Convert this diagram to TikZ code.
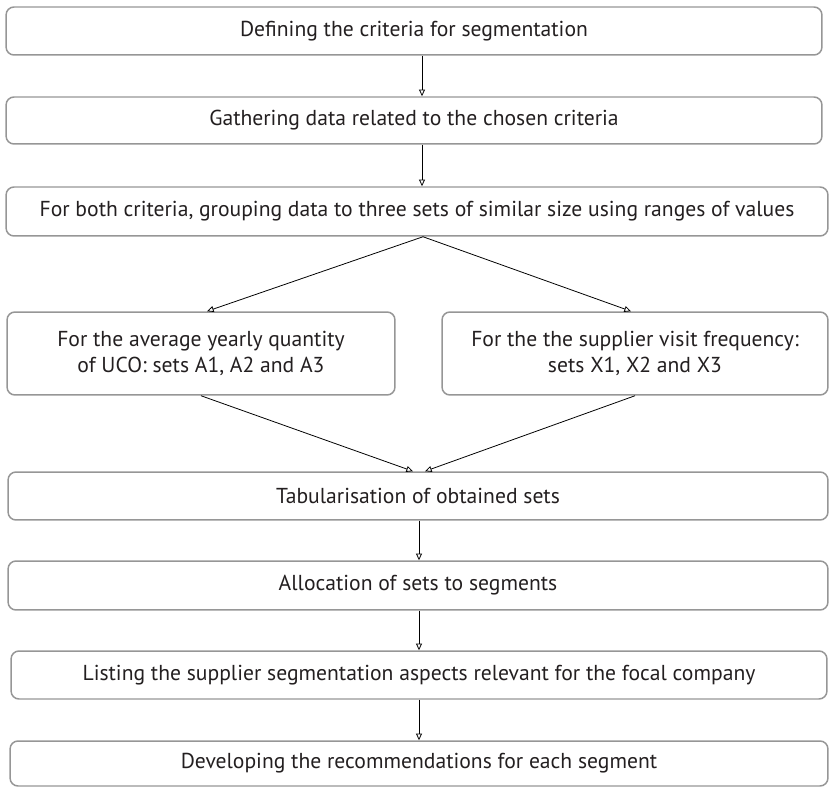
\documentclass[tikz,border=0pt]{standalone}
\usepackage{fontspec}
\setmainfont{PT Sans}
\usepackage{xcolor}
\usepackage{tikz}
\usetikzlibrary{arrows.meta,positioning,calc}
\definecolor{boxgray}{RGB}{150,150,150}
\definecolor{textblack}{RGB}{35,31,32}

\tikzset{
    stepbox/.style={draw=boxgray, line width=0.85pt, rounded corners=4.5pt, inner sep=0pt,
        align=center, text=textblack, font=\fontsize{12.3}{15}\selectfont},
    flow/.style={-{Triangle[open, length=3.8pt, width=3.4pt]}, line width=0.45pt, black}
}

\begin{document}
\begin{tikzpicture}[x=0.02cm, y=-0.02cm]
    \useasboundingbox (0,0) rectangle (829,787);

    % Main column
    \node[stepbox, minimum width=16.32cm, minimum height=0.96cm] (def) at (414,31) {Defining the criteria for segmentation};
    \node[stepbox, minimum width=16.32cm, minimum height=0.94cm] (gat) at (414,120.5) {Gathering data related to the chosen criteria};
    \node[stepbox, minimum width=16.44cm, minimum height=0.98cm] (both) at (417,211.5) {For both criteria, grouping data to three sets of similar size using ranges of values};

    % Two criteria
    \node[stepbox, minimum width=7.76cm, minimum height=1.66cm] (avg) at (201,353.5) {For the average yearly quantity\\of UCO: sets A1, A2 and A3};
    \node[stepbox, minimum width=7.72cm, minimum height=1.66cm] (freq) at (635,353.5) {For the the supplier visit frequency:\\sets X1, X2 and X3};

    % Lower column
    \node[stepbox, minimum width=16.40cm, minimum height=0.96cm] (tab) at (418,496) {Tabularisation of obtained sets};
    \node[stepbox, minimum width=16.40cm, minimum height=0.98cm] (alloc) at (418,585.5) {Allocation of sets to segments};
    \node[stepbox, minimum width=16.32cm, minimum height=0.96cm] (list) at (419,675) {Listing the supplier segmentation aspects relevant for the focal company};
    \node[stepbox, minimum width=16.36cm, minimum height=0.90cm] (dev) at (419,763.5) {Developing the recommendations for each segment};

    % Arrows
    \coordinate (upper) at (422,0);
    \coordinate (lower) at (419,0);
    \draw[flow] (def.south -| upper) -- (gat.north -| upper);
    \draw[flow] (gat.south -| upper) -- (both.north -| upper);
    \draw[flow] ($(both.south)+(6,0)$) -- ($(avg.north)+(6,0)$);
    \draw[flow] ($(both.south)+(6,0)$) -- ($(freq.north)+(-4,0)$);
    \draw[flow] (avg.south) -- ($(tab.north)+(-5,0)$);
    \draw[flow] (freq.south) -- ($(tab.north)+(7,0)$);
    \foreach \a/\b in {tab/alloc, alloc/list, list/dev} {
        \draw[flow] (\a.south -| lower) -- (\b.north -| lower);
    }
\end{tikzpicture}
\end{document}
